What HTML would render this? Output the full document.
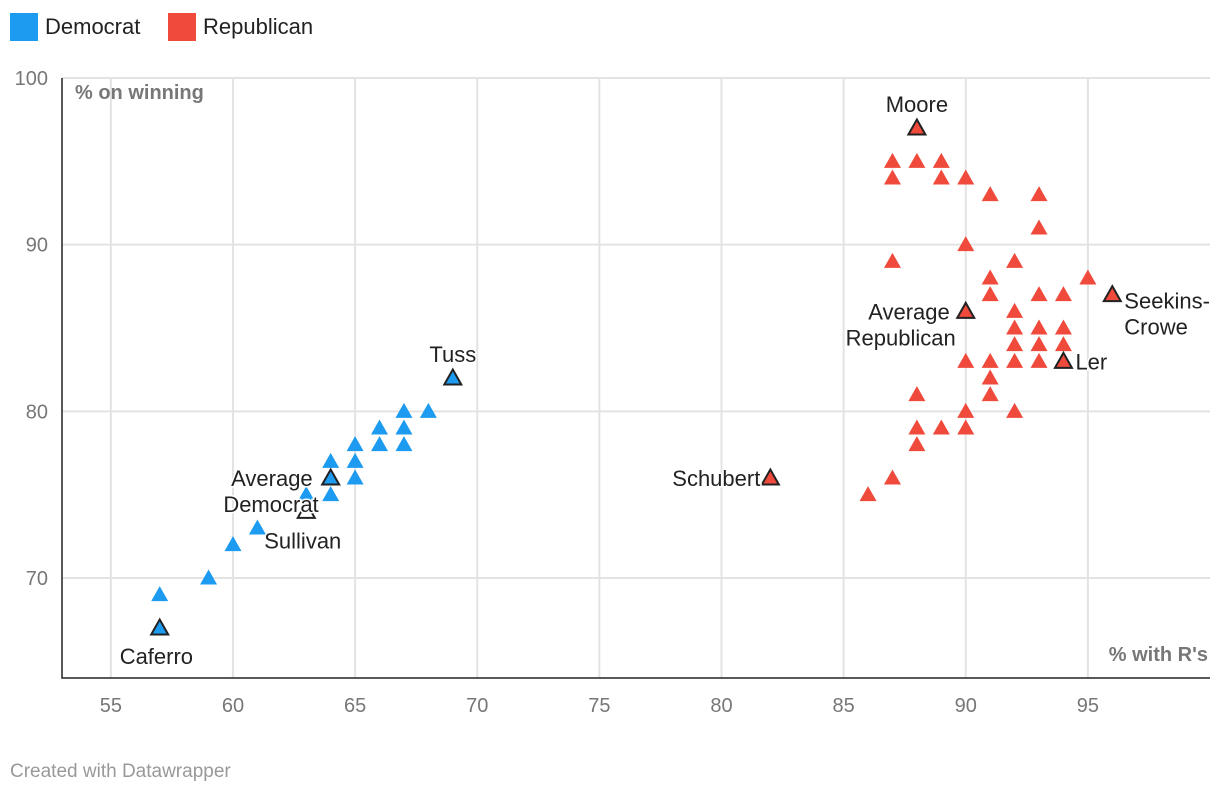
<!DOCTYPE html>
<html><head><meta charset="utf-8"><style>
body{margin:0;background:#fff;font-family:"Liberation Sans",sans-serif;}
svg{display:block}
</style></head><body>
<svg id="chart" width="1220" height="796">
  <g>
    <rect x="10" y="13" width="28" height="28" fill="#1d9bf0"/>
    <text x="45" y="34" font-size="22" fill="#222">Democrat</text>
    <rect x="168" y="13" width="28" height="28" fill="#f04a3c"/>
    <text x="203" y="34" font-size="22" fill="#222">Republican</text>
  </g>
  <g id="grid"></g>
  <g id="axes"></g>
  <g id="marks"></g>
  <g id="labels"></g>
  <text x="10" y="777" font-size="19" fill="#999">Created with Datawrapper</text>
</svg>
<script>
const xTicks=[55,60,65,70,75,80,85,90,95];
const yTicks=[70,80,90,100];
const demX=[57,59,60,61,63,64,64,65,65,65,66,66,67,67,67,68];
const demY=[69,70,72,73,75,77,75,78,77,76,79,78,80,79,78,80];
const repX=[87,88,89,87,89,90,91,93,93,90,87,92,95,91,91,93,94,92,92,93,94,92,93,94,90,91,92,93,91,91,88,90,92,88,89,90,88,87,86];
const repY=[95,95,95,94,94,94,93,93,91,90,89,89,88,88,87,87,87,86,85,85,85,84,84,84,83,83,83,83,82,81,81,80,80,79,79,79,78,76,75];
const hlNames=["Caferro","Sullivan","Average Democrat","Tuss","Schubert","Moore","Average Republican","Seekins-Crowe","Ler"];
const hlX=[57,63,64,69,82,88,90,96,94];
const hlY=[67,74,76,82,76,97,86,87,83];
const hlParty=["d","none","d","d","r","r","r","r","r"];
const X0=53,X1=100,Y0=64,Y1=100,L=62,R=1210,T=78,B=678;
const sx=v=>L+(v-X0)/(X1-X0)*(R-L);
const sy=v=>B-(v-Y0)/(Y1-Y0)*(B-T);
const NS="http://www.w3.org/2000/svg";
function mk(tag,attrs,parent){const e=document.createElementNS(NS,tag);for(const k in attrs)e.setAttribute(k,attrs[k]);parent.appendChild(e);return e;}
const grid=document.getElementById('grid'),axes=document.getElementById('axes'),marks=document.getElementById('marks'),labels=document.getElementById('labels');
xTicks.forEach(t=>{
  const l=mk('line',{x1:sx(t),x2:sx(t),y1:T,y2:B,stroke:'#e3e3e3','stroke-width':2},grid);
  
  
  const tx=mk('text',{x:sx(t),y:712,'font-size':20,fill:'#777','text-anchor':'middle'},axes);
  tx.textContent=t;
  
  
});
yTicks.forEach(t=>{
  const l=mk('line',{x1:L,x2:R,y1:sy(t),y2:sy(t),stroke:'#e3e3e3','stroke-width':2},grid);
  
  
  const tx=mk('text',{x:48,y:sy(t)+7,'font-size':20,fill:'#777','text-anchor':'end'},axes);
  tx.textContent=t;
  
  
});
const ax=mk('path',{d:`M${L},${T}V${B}H${R}`,fill:'none',stroke:'#222','stroke-width':1.5},axes);


const yt=mk('text',{x:75,y:99,'font-size':20,'font-weight':'bold',fill:'#777'},axes);
yt.textContent='% on winning';


const xt=mk('text',{x:1208,y:661,'font-size':20,'font-weight':'bold',fill:'#777','text-anchor':'end'},axes);
xt.textContent="% with R's";


function tri(x,y,fill,stroke){
  const cx=sx(x),cy=sy(y);
  return mk('path',{d:`M${cx},${cy-8.5}L${cx+8.5},${cy+6.5}L${cx-8.5},${cy+6.5}Z`,fill:fill,stroke:stroke||'none','stroke-width':stroke?2:0},marks);
}
demX.forEach((v,i)=>{const p=tri(v,demY[i],'#1d9bf0');
  
  });
repX.forEach((v,i)=>{const p=tri(v,repY[i],'#f04a3c');
  
  });
const lblPos={
 "Caferro":[[-40,36,'start',"Caferro"]],
 "Sullivan":[[-42,37,'start',"Sullivan"]],
 "Average Democrat":[[-18,8,'end',"Average"],[-12,34,'end',"Democrat"]],
 "Tuss":[[0,-16,'middle',"Tuss"]],
 "Schubert":[[-10,8,'end',"Schubert"]],
 "Moore":[[0,-16,'middle',"Moore"]],
 "Average Republican":[[-16,8,'end',"Average"],[-10,34,'end',"Republican"]],
 "Seekins-Crowe":[[12,14,'start',"Seekins-"],[12,40,'start',"Crowe"]],
 "Ler":[[12,8,'start',"Ler"]]
};
hlX.forEach((v,i)=>{
  const f=hlParty[i]==='d'?'#1d9bf0':hlParty[i]==='r'?'#f04a3c':'#fff';
  const p=tri(v,hlY[i],f,'#222');
  
  
  (lblPos[hlNames[i]]||[]).forEach(a=>{
    const t=mk('text',{x:sx(v)+a[0],y:sy(hlY[i])+a[1],'font-size':22,fill:'#222','text-anchor':a[2],stroke:'#fff','stroke-width':3,'paint-order':'stroke'},labels);
    t.textContent=a[3];
    
    
  });
});
</script>
</body></html>
